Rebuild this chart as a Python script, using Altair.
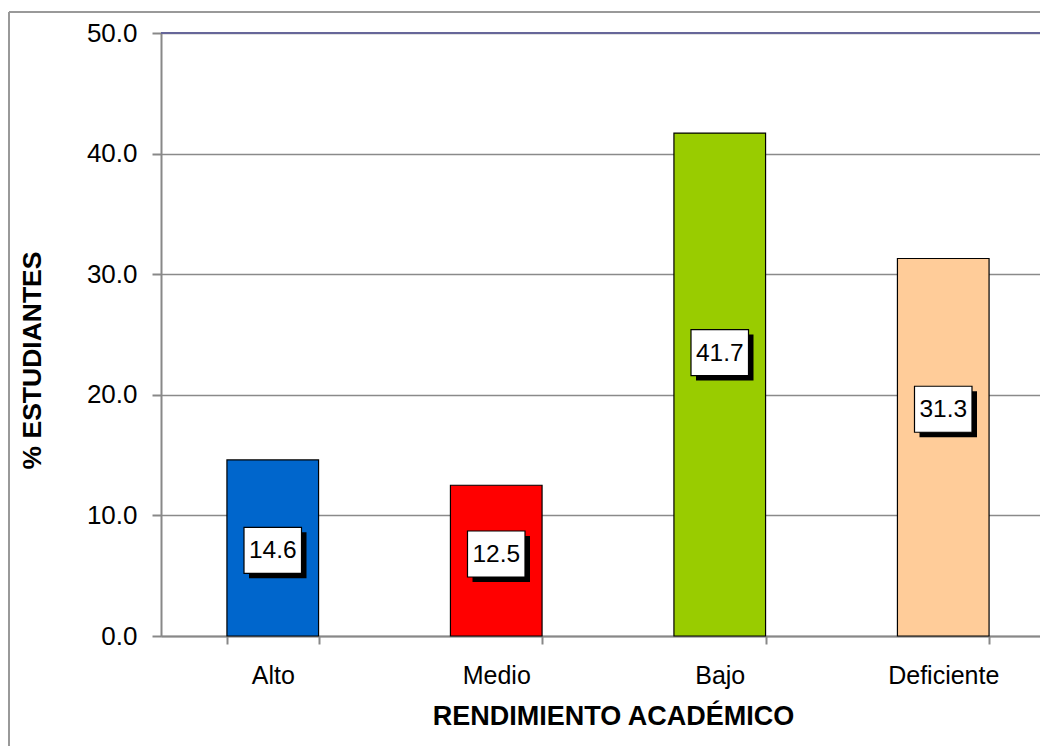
import altair as alt
import pandas as pd

categories = ["Alto", "Medio", "Bajo", "Deficiente"]
values = [14.6, 12.5, 41.7, 31.3]
label_anchor = [7.1, 6.8, 23.5, 18.8]  # where the data labels sit (data units)
colors = ["#0066CC", "#FF0000", "#99CC00", "#FFCC99"]
y_ticks = [0, 10, 20, 30, 40, 50]

df = pd.DataFrame({
    "cat": categories,
    "val": values,
    "lab": label_anchor,
    "txt": [f"{v:.1f}" for v in values],
})

FONT = "Arial, Liberation Sans, Helvetica, sans-serif"

x_enc = alt.X(
    "cat:N",
    sort=categories,
    scale=alt.Scale(paddingInner=0.59, paddingOuter=0.295, range=[0, 894]),
    axis=alt.Axis(
        title="RENDIMIENTO ACADÉMICO",
        titleFont=FONT, titleFontSize=27, titleFontWeight="bold", titleColor="black",
        titleX=452, titleY=88, titleBaseline="alphabetic", titleAlign="center",
        labelFont=FONT, labelFontSize=25, labelColor="black", labelAngle=0,
        labelBaseline="alphabetic", labelPadding=39,
        tickBand="extent", tickSize=8, tickColor="#888888", tickWidth=2,
        domainColor="#888888", domainWidth=2, grid=False,
    ),
)

y_scale = alt.Scale(domain=[0, 50], nice=False)

bars = alt.Chart(df).mark_bar(stroke="black", strokeWidth=1.2).encode(
    x=x_enc,
    y=alt.Y(
        "val:Q",
        scale=y_scale,
        axis=alt.Axis(
            values=y_ticks, format=".1f",
            title="% ESTUDIANTES",
            titleFont=FONT, titleFontSize=26.5, titleFontWeight="bold", titleColor="black",
            titleAngle=270, titleX=-129, titleY=327, titleAlign="center", titleBaseline="middle",
            labelFont=FONT, labelFontSize=26, labelColor="black", labelPadding=15,
            tickSize=9, tickColor="#888888", tickWidth=2,
            domainColor="#888888", domainWidth=2,
            gridColor="#8a8a8a", gridWidth=1.6,
        ),
    ),
    color=alt.Color("cat:N", scale=alt.Scale(domain=categories, range=colors), legend=None),
)

box_shape = "M-1.25,-1H1.25V1H-1.25Z"

shadow = alt.Chart(df).mark_point(
    shape=box_shape, size=2116, filled=True, fill="black", opacity=1,
    strokeWidth=0, xOffset=5, yOffset=5,
).encode(x=alt.X("cat:N", sort=categories), y=alt.Y("lab:Q", scale=y_scale))

box = alt.Chart(df).mark_point(
    shape=box_shape, size=2116, filled=True, fill="white", opacity=1,
    stroke="black", strokeWidth=1.2,
).encode(x=alt.X("cat:N", sort=categories), y=alt.Y("lab:Q", scale=y_scale))

text = alt.Chart(df).mark_text(
    font=FONT, fontSize=24.5, color="black", baseline="middle", dy=1,
).encode(x=alt.X("cat:N", sort=categories), y=alt.Y("lab:Q", scale=y_scale), text="txt:N")

# plot-area top border (bluish) and outer chart-area border (left and top edges)
plot_top = alt.Chart(df).mark_rule(color="#666699", strokeWidth=2).encode(
    x=alt.value(0), x2=alt.value(1000), y=alt.value(0)
)
border_left = alt.Chart(df).mark_rule(color="#999999", strokeWidth=2).encode(
    x=alt.value(-152), y=alt.value(-21), y2=alt.value(800)
)
border_top = alt.Chart(df).mark_rule(color="#999999", strokeWidth=2).encode(
    x=alt.value(-152), x2=alt.value(1000), y=alt.value(-21)
)

chart = alt.layer(bars, shadow, box, text, plot_top, border_left, border_top).properties(
    width=879, height=603,
    autosize=alt.AutoSizeParams(type="none"),
    padding={"left": 153, "top": 25, "right": 0, "bottom": 110},
).configure_view(
    strokeWidth=0,
).configure(background="white")

chart.save("out.html", embed_options={"renderer": "svg", "actions": False})
